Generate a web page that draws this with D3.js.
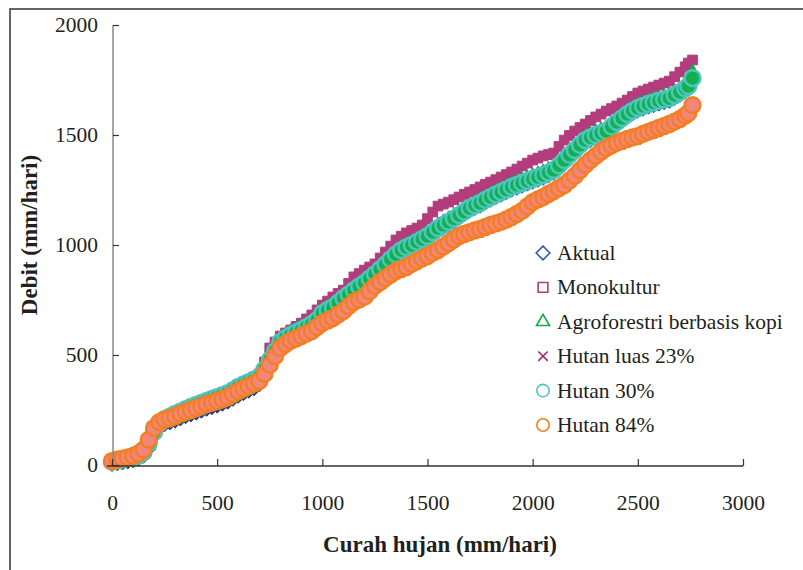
<!DOCTYPE html>
<html>
<head>
<meta charset="utf-8">
<script src="https://cdn.jsdelivr.net/npm/d3@7"></script>
<style>
  html, body { margin: 0; padding: 0; background: #fff; }
  svg { display: block; }
  text { font-family: "Liberation Serif", "Times New Roman", serif; fill: #231f20; }
</style>
</head>
<body>
<svg id="chart" width="803" height="570"></svg>
<script>
// ---- data ----
const rainfall = [0,25,50,75,100,125,150,175,200,225,250,275,300,325,350,375,400,425,450,475,500,525,550,575,600,625,650,675,700,725,750,775,800,825,850,875,900,925,950,975,1000,1025,1050,1075,1100,1125,1150,1175,1200,1225,1250,1275,1300,1325,1350,1375,1400,1425,1450,1475,1500,1525,1550,1575,1600,1625,1650,1675,1700,1725,1750,1775,1800,1825,1850,1875,1900,1925,1950,1975,2000,2025,2050,2075,2100,2125,2150,2175,2200,2225,2250,2275,2300,2325,2350,2375,2400,2425,2450,2475,2500,2525,2550,2575,2600,2625,2650,2675,2700,2725,2740,2760];

const aktual = [3,6,10,14,20,28,40,75,130,168,184,192,200,210,220,228,236,245,254,261,268,277,286,299,313,325,336,347,365,415,460,505,545,563,577,589,600,613,627,645,676,691,704,724,744,762,781,798,814,834,854,876,898,922,944,963,976,986,1000,1013,1027,1045,1063,1077,1091,1106,1122,1138,1154,1166,1177,1191,1204,1216,1227,1238,1250,1259,1268,1277,1286,1295,1304,1315,1327,1348,1372,1396,1418,1441,1463,1475,1486,1495,1504,1524,1545,1563,1581,1596,1609,1618,1627,1634,1641,1647,1654,1667,1681,1698,1709,1745];

const monokultur = [23,28,34,40,47,57,72,110,159,200,218,230,241,252,263,273,282,291,300,309,318,327,336,350,364,375,386,400,414,468,532,559,586,600,614,630,645,664,682,705,727,745,764,780,795,825,855,870,886,900,914,941,968,995,1023,1040,1055,1066,1077,1091,1120,1150,1177,1186,1195,1206,1218,1230,1241,1252,1264,1275,1286,1297,1309,1320,1332,1345,1359,1372,1386,1395,1405,1411,1418,1448,1477,1498,1518,1534,1550,1566,1582,1595,1609,1620,1632,1645,1659,1675,1691,1700,1709,1718,1727,1736,1745,1765,1786,1810,1827,1841];

const agroforestri = [8,11,14,18,24,32,46,85,140,175,188,195,204,214,224,232,241,250,259,266,273,282,291,304,318,330,341,352,372,445,495,537,577,595,609,621,632,645,659,677,708,723,736,756,776,794,813,830,846,866,886,908,930,954,976,995,1008,1018,1032,1045,1059,1077,1095,1109,1123,1138,1154,1170,1186,1198,1209,1223,1236,1248,1259,1270,1282,1291,1300,1309,1318,1327,1336,1347,1359,1380,1404,1428,1450,1473,1495,1507,1518,1527,1536,1556,1577,1595,1613,1628,1641,1650,1659,1666,1673,1679,1686,1699,1713,1730,1741,1790];

const hutan23 = [8,14,19,25,32,42,60,105,150,185,197,203,212,223,232,240,249,258,267,274,281,290,299,312,326,338,349,360,372,432,472,513,554,572,586,598,609,622,636,654,685,700,713,733,753,771,790,807,823,843,863,885,907,931,953,972,985,995,1009,1022,1036,1054,1072,1086,1100,1115,1131,1147,1163,1175,1186,1200,1213,1225,1236,1247,1259,1268,1277,1286,1295,1304,1313,1324,1336,1357,1381,1405,1427,1450,1472,1484,1495,1504,1513,1533,1554,1572,1590,1605,1618,1627,1636,1643,1650,1656,1663,1676,1690,1707,1718,1754];

const hutan30 = [14,20,25,31,36,42,58,100,150,190,208,220,232,243,254,264,273,282,291,300,309,318,327,340,355,366,377,388,400,436,477,518,559,577,591,603,614,627,641,659,690,705,718,738,758,776,795,812,828,848,868,890,912,936,958,977,990,1000,1014,1027,1041,1059,1077,1091,1105,1120,1136,1152,1168,1180,1191,1205,1218,1230,1241,1252,1264,1273,1282,1291,1300,1309,1318,1329,1341,1362,1386,1410,1432,1455,1477,1489,1500,1509,1518,1538,1559,1577,1595,1610,1623,1632,1641,1648,1655,1661,1668,1681,1695,1712,1723,1759];

const hutan84 = [18,24,29,35,42,52,70,115,168,195,207,213,222,233,242,250,259,268,277,284,291,300,309,322,336,348,359,370,382,414,455,495,532,550,564,575,586,597,609,627,645,656,668,684,700,722,741,752,764,790,814,832,850,866,882,891,900,914,927,939,950,964,977,993,1009,1025,1041,1050,1059,1066,1073,1082,1091,1098,1105,1116,1127,1141,1155,1175,1195,1207,1218,1232,1245,1259,1273,1293,1314,1340,1364,1386,1405,1424,1441,1453,1464,1473,1482,1489,1495,1505,1514,1523,1532,1541,1550,1561,1573,1588,1600,1636];

const seriesNames = ["Aktual","Monokultur","Agroforestri berbasis kopi","Hutan luas 23%","Hutan 30%","Hutan 84%"];
const xTicks = [0,500,1000,1500,2000,2500,3000];
const yTicks = [0,500,1000,1500,2000];

// ---- styling ----
const styles = [
  {vals: aktual,       sym: d3.symbolDiamond2, size: 130, fill: "#2b3990", stroke: "#2b3990", sw: 1,   lstroke: "#2f5cab"},
  {vals: monokultur,   sym: d3.symbolSquare2,  size: 120, fill: "#b33c7c", stroke: "#b33c7c", sw: 1,   lstroke: "#b33c7c"},
  {vals: agroforestri, sym: d3.symbolTriangle2,size: 110, fill: "#13a84b", stroke: "#13a84b", sw: 1,   lstroke: "#13a84b"},
  {vals: hutan23,      sym: d3.symbolTimes,    size: 60,  fill: "none",    stroke: "#9e2c6a", sw: 1.4, lstroke: "#9e2c6a"},
  {vals: hutan30,      sym: d3.symbolCircle,   size: 195, fill: "#12b04f", stroke: "#4ec4bf", sw: 2.5, lstroke: "#4ec4bf"},
  {vals: hutan84,      sym: d3.symbolCircle,   size: 195, fill: "#f3867a", stroke: "#f47f22", sw: 2.5, lstroke: "#f47f22"}
];

const svg = d3.select("#chart");

// outer frame
svg.append("path").attr("d", "M10,570 L10,9 L803,9")
  .attr("fill", "none").attr("stroke", "#333").attr("stroke-width", 1.5);

const x = d3.scaleLinear().domain([0, 3000]).range([112, 743]);
const y = d3.scaleLinear().domain([0, 2000]).range([465, 25]);

// markers
styles.forEach((s) => {
  svg.append("g").selectAll("path").data(rainfall.map((r, j) => [r, s.vals[j]]))
    .join("path")
    .attr("transform", d => `translate(${x(d[0])},${y(d[1])})`)
    .attr("d", d3.symbol().type(s.sym).size(s.size))
    .attr("fill", s.fill)
    .attr("stroke", s.stroke)
    .attr("stroke-width", s.sw);
});

// y axis
const yAxis = svg.append("g").attr("transform", "translate(113,0)")
  .call(d3.axisLeft(y).tickValues(yTicks).tickSize(-6).tickPadding(15).tickFormat(d3.format("d")));
yAxis.select(".domain").attr("d", "M0,25V466").attr("stroke", "#888").attr("stroke-width", 1.5);
yAxis.selectAll(".tick line").attr("stroke", "#333").attr("stroke-width", 1.2);
yAxis.selectAll(".tick text").attr("font-size", 21.5).attr("font-family", "Liberation Serif").attr("fill", "#231f20");

// x axis
const xAxis = svg.append("g").attr("transform", "translate(0,466)")
  .call(d3.axisBottom(x).tickValues(xTicks).tickSize(-7).tickPadding(29).tickFormat(d3.format("d")));
xAxis.select(".domain").attr("d", "M107,0H743").attr("stroke", "#333").attr("stroke-width", 1.3);
xAxis.selectAll(".tick line").attr("stroke", "#333").attr("stroke-width", 1.2);
xAxis.selectAll(".tick text").attr("font-size", 21.5).attr("font-family", "Liberation Serif").attr("fill", "#231f20");

// axis titles
svg.append("text").attr("x", 440).attr("y", 552).attr("text-anchor", "middle")
  .attr("font-size", 23).attr("font-weight", "bold").text("Curah hujan (mm/hari)");
svg.append("text").attr("transform", "translate(37,235) rotate(-90)").attr("text-anchor", "middle")
  .attr("font-size", 23).attr("font-weight", "bold").text("Debit (mm/hari)");

// legend
const legend = svg.append("g");
styles.forEach((s, i) => {
  const cy = 253 + i * 34.4;
  legend.append("path")
    .attr("transform", `translate(543,${cy})`)
    .attr("d", d3.symbol().type(s.sym).size(i === 3 ? 60 : 120))
    .attr("fill", "none").attr("stroke", s.lstroke).attr("stroke-width", 1.6);
  legend.append("text").attr("x", 557).attr("y", cy + 7).attr("font-size", 21.5).text(seriesNames[i]);
});
</script>
</body>
</html>
